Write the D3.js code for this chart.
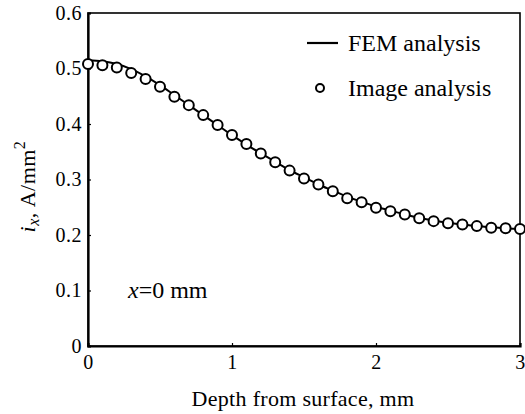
<!DOCTYPE html>
<html>
<head>
<meta charset="utf-8">
<script src="https://cdn.jsdelivr.net/npm/d3@7"></script>
<style>
  body { margin: 0; background: #fff; }
</style>
</head>
<body>
<div id="chart"></div>
<script>
const serif = "'Liberation Serif', 'Times New Roman', serif"

// depth values, mm (0 to 3 by 0.1)
const depths = [0, 0.1, 0.2, 0.3, 0.4, 0.5, 0.6, 0.7, 0.8, 0.9, 1.0,
  1.1, 1.2, 1.3, 1.4, 1.5, 1.6, 1.7, 1.8, 1.9, 2.0,
  2.1, 2.2, 2.3, 2.4, 2.5, 2.6, 2.7, 2.8, 2.9, 3.0]

const imageValues = [0.508, 0.506, 0.502, 0.492, 0.481, 0.467, 0.449, 0.434, 0.416, 0.398, 0.380,
  0.364, 0.347, 0.331, 0.316, 0.302, 0.291, 0.279, 0.266, 0.259, 0.249,
  0.243, 0.237, 0.230, 0.225, 0.221, 0.219, 0.216, 0.213, 0.212, 0.211]

const femValues = [0.515, 0.513, 0.508, 0.499, 0.486, 0.470, 0.452, 0.434, 0.416, 0.398, 0.380,
  0.363, 0.347, 0.332, 0.317, 0.304, 0.291, 0.280, 0.269, 0.260, 0.251,
  0.244, 0.237, 0.231, 0.226, 0.222, 0.219, 0.216, 0.214, 0.212, 0.211]

const xTicks = [0, 1, 2, 3]
const yTicks = [0, 0.1, 0.2, 0.3, 0.4, 0.5, 0.6]
const legendLabels = ['FEM analysis', 'Image analysis']

const margin = { top: 13, left: 88, right: 5, bottom: 68 }
const width = 525 - margin.left - margin.right
const height = 414 - margin.top - margin.bottom

const svg = d3
  .select('#chart')
  .append('svg')
  .attr('width', 525)
  .attr('height', 414)
  .append('g')
  .attr('transform', 'translate(' + margin.left + ',' + margin.top + ')')

const xPositionScale = d3.scaleLinear().domain([0, 3]).range([0, width])
const yPositionScale = d3.scaleLinear().domain([0, 0.6]).range([height, 0])

// frame
svg
  .append('rect')
  .attr('x', 0)
  .attr('y', 0)
  .attr('width', width)
  .attr('height', height)
  .attr('fill', 'none')
  .attr('stroke', '#000')
  .attr('stroke-width', 1.6)

// axes with small inward ticks
const xAxis = d3.axisBottom(xPositionScale).tickValues(xTicks).tickSize(-3).tickPadding(7)
  .tickFormat(d3.format('d'))
svg
  .append('g')
  .attr('class', 'x-axis')
  .attr('transform', `translate(0,${height})`)
  .call(xAxis)

const yAxis = d3.axisLeft(yPositionScale).tickValues(yTicks).tickSize(-3).tickPadding(6)
  .tickFormat(d => (d === 0 ? '0' : d3.format('.1f')(d)))
svg
  .append('g')
  .attr('class', 'y-axis')
  .call(yAxis)

svg.selectAll('.x-axis .domain, .y-axis .domain').attr('stroke-width', 2.2)
svg.selectAll('.tick line').attr('stroke-width', 1.2)
svg
  .selectAll('.tick text')
  .style('font-family', serif)
  .style('font-size', '20px')
  .style('letter-spacing', '0.5px')
  .attr('fill', '#000')
svg.selectAll('.x-axis .tick text').attr('dy', '0.8em')

// FEM line
const line = d3
  .line()
  .x((d, i) => xPositionScale(depths[i]))
  .y(d => yPositionScale(d))
  .curve(d3.curveMonotoneX)

svg
  .append('path')
  .datum(femValues)
  .attr('d', line)
  .attr('fill', 'none')
  .attr('stroke', '#000')
  .attr('stroke-width', 2)

// image analysis points
svg
  .selectAll('.image-point')
  .data(imageValues)
  .enter()
  .append('circle')
  .attr('class', 'image-point')
  .attr('cx', (d, i) => xPositionScale(depths[i]))
  .attr('cy', d => yPositionScale(d))
  .attr('r', 5)
  .attr('fill', '#fff')
  .attr('stroke', '#000')
  .attr('stroke-width', 2)

// legend
const legend = svg.append('g').attr('transform', 'translate(219,0)')
legend
  .append('line')
  .attr('x1', 0)
  .attr('x2', 31)
  .attr('y1', 30)
  .attr('y2', 30)
  .attr('stroke', '#000')
  .attr('stroke-width', 2.2)
legend
  .append('circle')
  .attr('cx', 13)
  .attr('cy', 75)
  .attr('r', 4)
  .attr('fill', '#fff')
  .attr('stroke', '#000')
  .attr('stroke-width', 2)
legend
  .selectAll('.legend-label')
  .data(legendLabels)
  .enter()
  .append('text')
  .attr('class', 'legend-label')
  .text(d => d)
  .attr('x', 41)
  .attr('y', (d, i) => 30 + i * 45)
  .attr('dy', '0.35em')
  .style('font-family', serif)
  .style('font-size', '24px')

// annotation
const note = svg
  .append('text')
  .attr('x', 40)
  .attr('y', 285)
  .style('font-family', serif)
  .style('font-size', '24px')
note.append('tspan').text('x').style('font-style', 'italic')
note.append('tspan').text('=0 mm')

// axis titles
svg
  .append('text')
  .attr('x', width / 2 - 1)
  .attr('y', height + 60)
  .attr('text-anchor', 'middle')
  .style('font-family', serif)
  .style('font-size', '22px')
  .style('letter-spacing', '0.3px')
  .text('Depth from surface, mm')

const yTitle = svg
  .append('text')
  .attr('transform', `translate(-53,${yPositionScale(0.3) + 7}) rotate(-90)`)
  .attr('text-anchor', 'middle')
  .style('font-family', serif)
  .style('font-size', '22px')
  .style('letter-spacing', '0.5px')
yTitle.append('tspan').text('i').style('font-style', 'italic')
yTitle.append('tspan').text('x').style('font-style', 'italic')
  .style('font-size', '16px').attr('dy', 4)
yTitle.append('tspan').text(', A/mm').attr('dy', -4)
yTitle.append('tspan').text('2').style('font-size', '16px').attr('dy', -10)
</script>
</body>
</html>
